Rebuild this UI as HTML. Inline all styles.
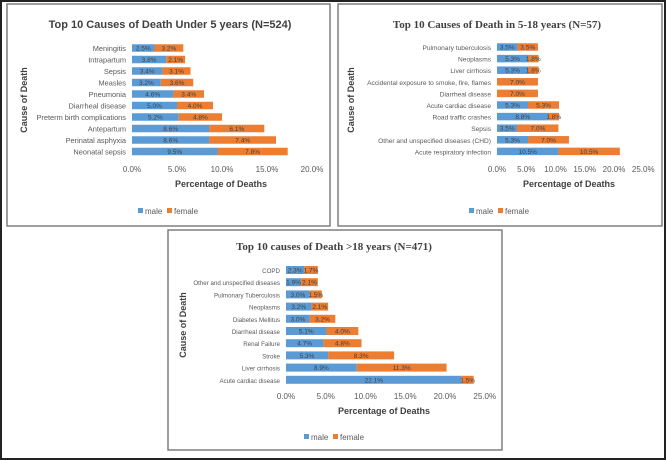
<!DOCTYPE html>
<html><head><meta charset="utf-8"><style>
html,body{margin:0;padding:0;background:#fff}
svg{display:block;font-family:"Liberation Sans",sans-serif}
.tick{font-size:8px;fill:#595959}
.ax{font-size:9px;fill:#404040;font-weight:bold}
.val{font-size:6.5px;fill:#404040}
</style></head><body>
<svg id="c" width="666" height="460" viewBox="0 0 666 460">
<rect x="1" y="1" width="664" height="458" fill="#fff" stroke="#222" stroke-width="2"/>
</svg>
<script>
const p1Categories=["Meningitis","Intrapartum","Sepsis","Measles","Pneumonia","Diarrheal disease","Preterm birth complications","Antepartum","Perinatal asphyxia","Neonatal sepsis"];
const p1Male=[2.5,3.8,3.4,3.2,4.6,5.0,5.2,8.6,8.6,9.5];
const p1Female=[3.2,2.1,3.1,3.6,3.4,4.0,4.8,6.1,7.4,7.8];
const p1Ticks=[0,5,10,15,20];
const p2Categories=["Pulmonary tuberculosis","Neoplasms","Liver cirrhosis","Accidental exposure to smoke, fire, flames","Diarrheal disease","Acute cardiac disease","Road traffic crashes","Sepsis","Other and unspecified diseases (CHD)","Acute respiratory infection"];
const p2Male=[3.5,5.3,5.3,0,0,5.3,8.8,3.5,5.3,10.5];
const p2Female=[3.5,1.8,1.8,7.0,7.0,5.3,1.8,7.0,7.0,10.5];
const p2Ticks=[0,5,10,15,20,25];
const p3Categories=["COPD","Other and unspecified diseases","Pulmonary Tuberculosis","Neoplasms","Diabetes Mellitus","Diarrheal disease","Renal Failure","Stroke","Liver cirrhosis","Acute cardiac disease"];
const p3Male=[2.3,1.9,3.0,3.2,3.0,5.1,4.7,5.3,8.9,22.1];
const p3Female=[1.7,2.1,1.5,2.1,3.2,4.0,4.8,8.3,11.3,1.5];
const p3Ticks=[0,5,10,15,20,25];

const NS="http://www.w3.org/2000/svg";
const svg=document.getElementById('c');
function mk(tag,attrs,parent,text){const e=document.createElementNS(NS,tag);for(const k in attrs)e.setAttribute(k,attrs[k]);if(text!==undefined)e.textContent=text;(parent||svg).appendChild(e);return e;}

function panel(cfg){
  const g=mk('g',{});
  
  
  const fr=mk('rect',{x:cfg.fx,y:cfg.fy,width:cfg.fw,height:cfg.fh,fill:'#fff',stroke:'#7f7f7f','stroke-width':1.5},g);
  
  
  const t=mk('text',{x:cfg.tx,y:cfg.ty,'text-anchor':'middle','font-size':cfg.tsize,'font-weight':'bold',fill:'#404040','font-family':cfg.serif?'"Liberation Serif",serif':'"Liberation Sans",sans-serif'},g,cfg.title);
  
  
  const xs=v=>cfg.x0+v*cfg.scale;
  const ys=i=>cfg.y0+i*cfg.step;
  cfg.ticks.forEach(v=>{
    const tk=mk('text',{x:xs(v),y:cfg.tickY,'text-anchor':'middle',class:'tick','font-size':cfg.tickSize},g,v.toFixed(1)+'%');
    
    
  });
  cfg.cats.forEach((c,i)=>{
    const y=ys(i);
    const l=mk('text',{x:cfg.x0-6,y:y+3,'text-anchor':'end','font-size':cfg.labSize,fill:'#595959'},g,c);
    
    
    const m=cfg.male[i],f=cfg.female[i];
    if(m>0){
      const b=mk('rect',{x:xs(0),y:y-cfg.bh/2,width:m*cfg.scale,height:cfg.bh,fill:'#5b9bd5'},g);
      
      
      const v=mk('text',{x:xs(m/2),y:y+2.5,'text-anchor':'middle',class:'val'},g,m.toFixed(1)+'%');
      
      
    }
    const b2=mk('rect',{x:xs(m),y:y-cfg.bh/2,width:f*cfg.scale,height:cfg.bh,fill:'#ed7d31'},g);
    
    
    const v2=mk('text',{x:xs(m+f/2),y:y+2.5,'text-anchor':'middle',class:'val'},g,f.toFixed(1)+'%');
    
    
  });
  const xt=mk('text',{x:cfg.axX,y:cfg.axY,'text-anchor':'middle',class:'ax'},g,'Percentage of Deaths');
  
  
  const yt=mk('text',{x:cfg.ytX,y:cfg.ytY,'text-anchor':'middle',class:'ax',transform:`rotate(-90 ${cfg.ytX} ${cfg.ytY})`},g,'Cause of Death');
  
  
  const lx=cfg.legX-30, ly=cfg.legY;
  const s1=mk('rect',{x:lx,y:ly-6,width:5,height:5,fill:'#5b9bd5'},g);
  
  
  const l1=mk('text',{x:lx+7,y:ly,class:'tick','font-size':7.5},g,'male');
  
  
  const s2=mk('rect',{x:lx+29,y:ly-6,width:5,height:5,fill:'#ed7d31'},g);
  
  
  const l2=mk('text',{x:lx+36,y:ly,class:'tick','font-size':7.5},g,'female');
  
  
}

panel({name:'panel-under-5',fx:7,fy:4,fw:323,fh:222,title:'Top 10 Causes of Death Under 5 years (N=524)',tx:170,ty:28,tsize:11,serif:false,
  cats:p1Categories,male:p1Male,female:p1Female,ticks:p1Ticks,x0:132,scale:9,y0:48,step:11.5,bh:7.5,tickY:172,labSize:7.4,tickSize:7.5,
  axX:221,axY:187,ytX:27,ytY:100,legX:168,legY:214});
panel({name:'panel-5-18',fx:338,fy:4,fw:324,fh:222,title:'Top 10 Causes of Death in 5-18 years (N=57)',tx:497,ty:28,tsize:11,serif:true,
  cats:p2Categories,male:p2Male,female:p2Female,ticks:p2Ticks,x0:497,scale:5.85,y0:47,step:11.6,bh:7.5,tickY:172,labSize:6.6,tickSize:7.5,
  axX:569,axY:187,ytX:354,ytY:100,legX:499,legY:214});
panel({name:'panel-over-18',fx:168,fy:230,fw:334,fh:220,title:'Top 10 causes of Death >18 years (N=471)',tx:334,ty:250,tsize:11,serif:true,
  cats:p3Categories,male:p3Male,female:p3Female,ticks:p3Ticks,x0:286,scale:7.95,y0:270,step:12.2,bh:8,tickY:399,labSize:6.2,tickSize:7,
  axX:384,axY:414,ytX:186,ytY:325,legX:334,legY:440});
</script>
</body></html>
